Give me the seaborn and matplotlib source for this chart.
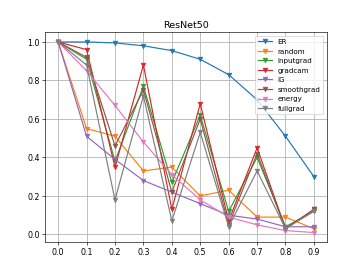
import matplotlib
matplotlib.use("Agg")
import matplotlib.pyplot as plt
import seaborn as sns
import pandas as pd

ratios = [0.0, 0.1, 0.2, 0.3, 0.4, 0.5, 0.6, 0.7, 0.8, 0.9]
er = [1.0, 1.0, 0.995, 0.98, 0.955, 0.91, 0.83, 0.70, 0.51, 0.30]
random_ = [1.0, 0.55, 0.51, 0.33, 0.35, 0.20, 0.23, 0.09, 0.09, 0.03]
inputgrad = [1.0, 0.91, 0.38, 0.77, 0.27, 0.62, 0.12, 0.40, 0.04, 0.12]
gradcam = [1.0, 0.96, 0.35, 0.88, 0.13, 0.68, 0.07, 0.45, 0.03, 0.13]
ig = [1.0, 0.51, 0.39, 0.28, 0.22, 0.16, 0.10, 0.08, 0.04, 0.04]
smoothgrad = [1.0, 0.92, 0.46, 0.75, 0.22, 0.60, 0.05, 0.42, 0.03, 0.13]
energy = [1.0, 0.85, 0.67, 0.48, 0.31, 0.18, 0.09, 0.05, 0.02, 0.01]
fullgrad = [1.0, 0.88, 0.18, 0.72, 0.07, 0.53, 0.04, 0.33, 0.03, 0.12]

series = {
    "ER": er, "random": random_, "inputgrad": inputgrad, "gradcam": gradcam,
    "IG": ig, "smoothgrad": smoothgrad, "energy": energy, "fullgrad": fullgrad,
}
df = pd.DataFrame(
    [(k, x, y) for k, vals in series.items() for x, y in zip(ratios, vals)],
    columns=["method", "ratio", "score"],
)

fig, ax = plt.subplots(figsize=(6.4, 4.8), dpi=363 / 6.4)
palette = sns.color_palette("tab10", len(series))
for (name, _), color in zip(series.items(), palette):
    sub = df[df["method"] == name]
    sns.lineplot(data=sub, x="ratio", y="score", ax=ax, marker="v",
                 markersize=6, markeredgecolor=color, color=color, label=name)
ax.set_title("ResNet50")
ax.set_xlabel("")
ax.set_ylabel("")
ax.set_xticks(ratios)
ax.grid(True, linewidth=1.0, color="#b0b0b0")
ax.legend(loc="upper right", fontsize=9)
fig.savefig("out.png", dpi=363 / 6.4)
